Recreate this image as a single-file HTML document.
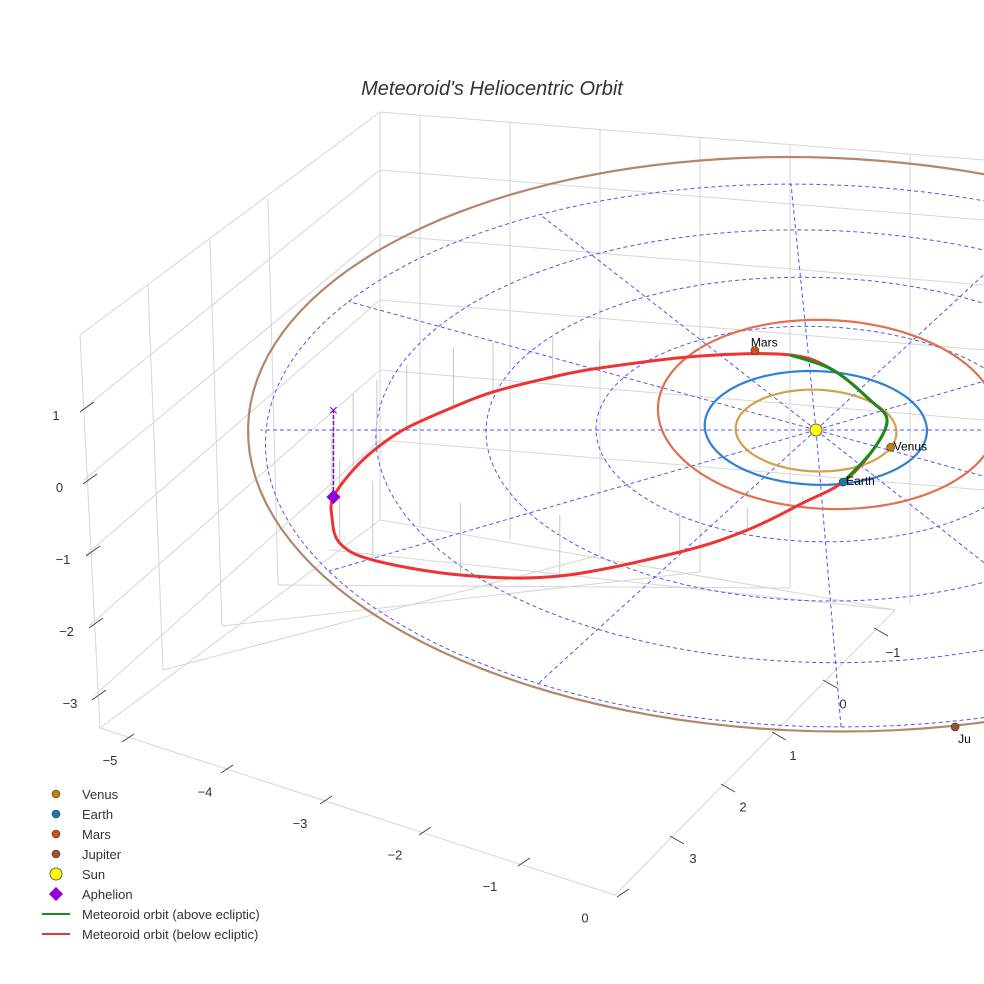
<!DOCTYPE html>
<html><head><meta charset="utf-8"><style>
body{margin:0;background:#fff;}
svg{display:block;font-family:"Liberation Sans",sans-serif;}
</style></head><body>
<svg id="chart" width="984" height="984" viewBox="0 0 984 984">
<text x="492" y="95" text-anchor="middle" font-size="20" font-style="italic" fill="#333">Meteoroid's Heliocentric Orbit</text>
<g id="box" stroke="#d6d6d6" stroke-width="1" fill="none">
<path d="M80,335 L380,112 L984,160 M380,112 L380,520 M80,335 L100,728 L615,895 L895,610 M100,728 L380,520 L895,610"/>
<path d="M148,285 L163,670 M210,240 L222,626 M268,198 L278,585 M420,115 L420,525 M510,122 L510,540 M600,130 L600,555 M700,138 L700,572 M790,145 L790,588 M910,155 L910,605"/>
<path d="M82,410 L380,170 L984,220 M84,480 L380,235 L984,285 M86,555 L380,300 L984,350 M90,625 L380,370 L984,420 M95,695 L380,440 L984,490"/>
<path d="M163,670 L600,555 M222,626 L700,572 M278,585 L790,588 M330,550 L895,610"/>
</g>
<g id="grid" stroke="#5555ee" stroke-width="1" stroke-dasharray="4,3" fill="none"></g>
<g id="orbits" fill="none" stroke-width="2.2"></g>
<g id="stems" stroke="#c8c8c8" stroke-width="1"></g>
<g id="meteor" fill="none" stroke-width="3"></g>
<g id="marks"></g>
<g id="ticks" font-size="13" fill="#333"></g>
<g id="legend" font-size="13" fill="#333"></g>
</svg>
<script>
const planetNames=["Venus","Earth","Mars","Jupiter"];
const orbitRx=[0.73,1.01,1.55,5.17];
const orbitRy=[0.76,1.06,1.78,5.34];
const orbitCx=[0.0,0.0,0.12,0.0];
const orbitCy=[0.0,0.06,0.35,0.27];
const planetColors=["#d4a04a","#2f7fd6","#e07050","#b5876a"];
const markerColors=["#c87a10","#1f77b4","#d2501a","#a0522d"];
const planetX=[0.66,0.20,-0.5,0.94];
const planetY=[-0.32,-0.95,1.52,-5.0];
const orbitX=[-4.40,-4.40,-4.31,-4.0,-3.21,-2.33,-1.27,-0.67,-0.17,0.20,0.49,0.645,0.51,0.205,-0.176,-1.01,-1.95,-2.39,-2.95,-3.32,-3.75,-4.02,-4.23];
const orbitY=[0.363,-0.011,-0.555,-0.928,-1.323,-1.531,-1.489,-1.418,-1.196,-0.949,-0.501,-0.015,0.359,1.027,1.432,1.695,1.743,1.779,1.682,1.569,1.244,0.954,0.670];
const orbitZ=[-1.2,-1.2,-1.15,-1.1,-1.0,-0.85,-0.55,-0.3,-0.1,0,0.1,0.15,0.15,0.08,0,-0.2,-0.4,-0.55,-0.69,-0.82,-0.88,-0.95,-1.05];
const gridRadii=[2,3,4,5];
const zTicks=["1","0","−1","−2","−3"];
const xTicks=["−5","−4","−3","−2","−1","0"];
const yTicks=["−1","0","1","2","3"];
const NS="http://www.w3.org/2000/svg";
const A=53.8,B=0.0188;
function px(x,y){return 816+110*x/(1+B*y)-5*y;}
function py(y,z){return 430-A*y/(1+B*y)-72*(z||0);}
function mk(t,a,p){const e=document.createElementNS(NS,t);for(const k in a)e.setAttribute(k,a[k]);p.appendChild(e);return e;}
function ring(rx,ry,cx,cy){let d='';for(let k=0;k<=144;k++){const t=k/144*2*Math.PI;const x=cx+rx*Math.cos(t),y=cy+ry*Math.sin(t);d+=(k?'L':'M')+px(x,y).toFixed(1)+','+py(y).toFixed(1);}return d;}
const grid=document.getElementById('grid');
gridRadii.forEach(r=>{const e=mk('path',{d:ring(r,r,0,0)},grid);

});
for(let a=0;a<360;a+=30){const t=a*Math.PI/180;const R=a===0?6:(a===180?5.05:5);const x=R*Math.cos(t),y=R*Math.sin(t);
const e=mk('line',{x1:px(0,0),y1:py(0),x2:px(x,y),y2:py(y)},grid);

}
const orb=document.getElementById('orbits');
planetNames.forEach((n,i)=>{const e=mk('path',{d:ring(orbitRx[i],orbitRy[i],orbitCx[i],orbitCy[i]),stroke:planetColors[i]},orb);

});
const stems=document.getElementById('stems');
orbitX.forEach((x,i)=>{const y=orbitY[i];if(orbitZ[i]>=0)return;const e=mk('line',{x1:px(x,y),y1:py(y,orbitZ[i]),x2:px(x,y),y2:py(y,0)},stems);

});
function smooth(idx,closed){const P=idx.map(i=>[px(orbitX[i],orbitY[i]),py(orbitY[i],orbitZ[i])]);const n=P.length;let d='M'+P[0][0]+','+P[0][1];
const g=k=>closed?P[(k+n)%n]:P[Math.max(0,Math.min(n-1,k))];const m=closed?n:n-1;
for(let k=0;k<m;k++){const p0=g(k-1),p1=g(k),p2=g(k+1),p3=g(k+2);
d+=' C'+(p1[0]+(p2[0]-p0[0])/6)+','+(p1[1]+(p2[1]-p0[1])/6)+' '+(p2[0]-(p3[0]-p1[0])/6)+','+(p2[1]-(p3[1]-p1[1])/6)+' '+p2[0]+','+p2[1];}
return d+(closed?'Z':'');}
const met=document.getElementById('meteor');
const all=orbitX.map((_,i)=>i);
const red=mk('path',{d:smooth(all,true),stroke:'#ee3333'},met);


const up=all.filter(i=>orbitZ[i]>=0);
const gr=mk('path',{d:smooth(up,false),stroke:'#1a8c1a'},met);


const marks=document.getElementById('marks');
const ax=px(orbitX[0],orbitY[0]),ay=py(orbitY[0],orbitZ[0]),ay0=py(orbitY[0],0);
const al=mk('line',{x1:ax,y1:ay,x2:ax,y2:ay0,stroke:'#9400d3','stroke-width':1.5,'stroke-dasharray':'4,2'},marks);


const xm=mk('text',{x:ax,y:ay0+5,'text-anchor':'middle','font-size':16,fill:'#9400d3'},marks);xm.textContent='×';


const dm=mk('rect',{x:ax-5,y:ay-5,width:10,height:10,fill:'#9400d3',transform:`rotate(45 ${ax} ${ay})`},marks);


const sun=mk('circle',{cx:px(0,0),cy:py(0),r:6,fill:'#ffff00',stroke:'#666'},marks);


planetNames.forEach((n,i)=>{const x=px(planetX[i],planetY[i]),y=py(planetY[i]);
const c=mk('circle',{cx:x,cy:y,r:4,fill:markerColors[i],stroke:'#333','stroke-width':0.6},marks);


const t=mk('text',{x:x+(n==='Mars'?-4:3),y:y+(n==='Mars'?-4:(n==='Jupiter'?16:3)),'font-size':12,fill:'#000'},marks);t.textContent=n==='Jupiter'?'Ju':n;

});
const ticks=document.getElementById('ticks');
zTicks.forEach((l,i)=>{const y=415+i*72;
const m=mk('line',{x1:80+i*3,y1:y-3,x2:94+i*3,y2:y-13,stroke:'#444'},ticks);


const t=mk('text',{x:56+i*3.5,y:y+5,'text-anchor':'middle'},ticks);t.textContent=l;

});
xTicks.forEach((l,i)=>{const e=mk('text',{x:110+i*95,y:765+i*31.5,'text-anchor':'middle'},ticks);e.textContent=l;


const m=mk('line',{x1:122+i*99,y1:742+i*31,x2:134+i*99,y2:734+i*31,stroke:'#444'},ticks);

});
yTicks.forEach((l,i)=>{const e=mk('text',{x:893-i*50,y:657+i*51.5,'text-anchor':'middle'},ticks);e.textContent=l;


const m=mk('line',{x1:874-i*51,y1:628+i*52,x2:888-i*51,y2:636+i*52,stroke:'#444'},ticks);

});
const leg=document.getElementById('legend');
const legLabels=["Venus","Earth","Mars","Jupiter","Sun","Aphelion","Meteoroid orbit (above ecliptic)","Meteoroid orbit (below ecliptic)"];
legLabels.forEach((l,i)=>{const y=794+i*20;const g=mk('g',{},leg);


if(i<4)mk('circle',{cx:56,cy:y,r:4,fill:markerColors[i],stroke:'#333','stroke-width':0.6},g);
else if(i===4)mk('circle',{cx:56,cy:y,r:6,fill:'#ffff00',stroke:'#666'},g);
else if(i===5)mk('rect',{x:51,y:y-5,width:10,height:10,fill:'#9400d3',transform:`rotate(45 56 ${y})`},g);
else mk('line',{x1:42,y1:y,x2:70,y2:y,stroke:i===6?'#1a8c1a':'#ee3333','stroke-width':2},g);
const t=mk('text',{x:82,y:y+5},g);t.textContent=l;});
</script>
</body></html>
